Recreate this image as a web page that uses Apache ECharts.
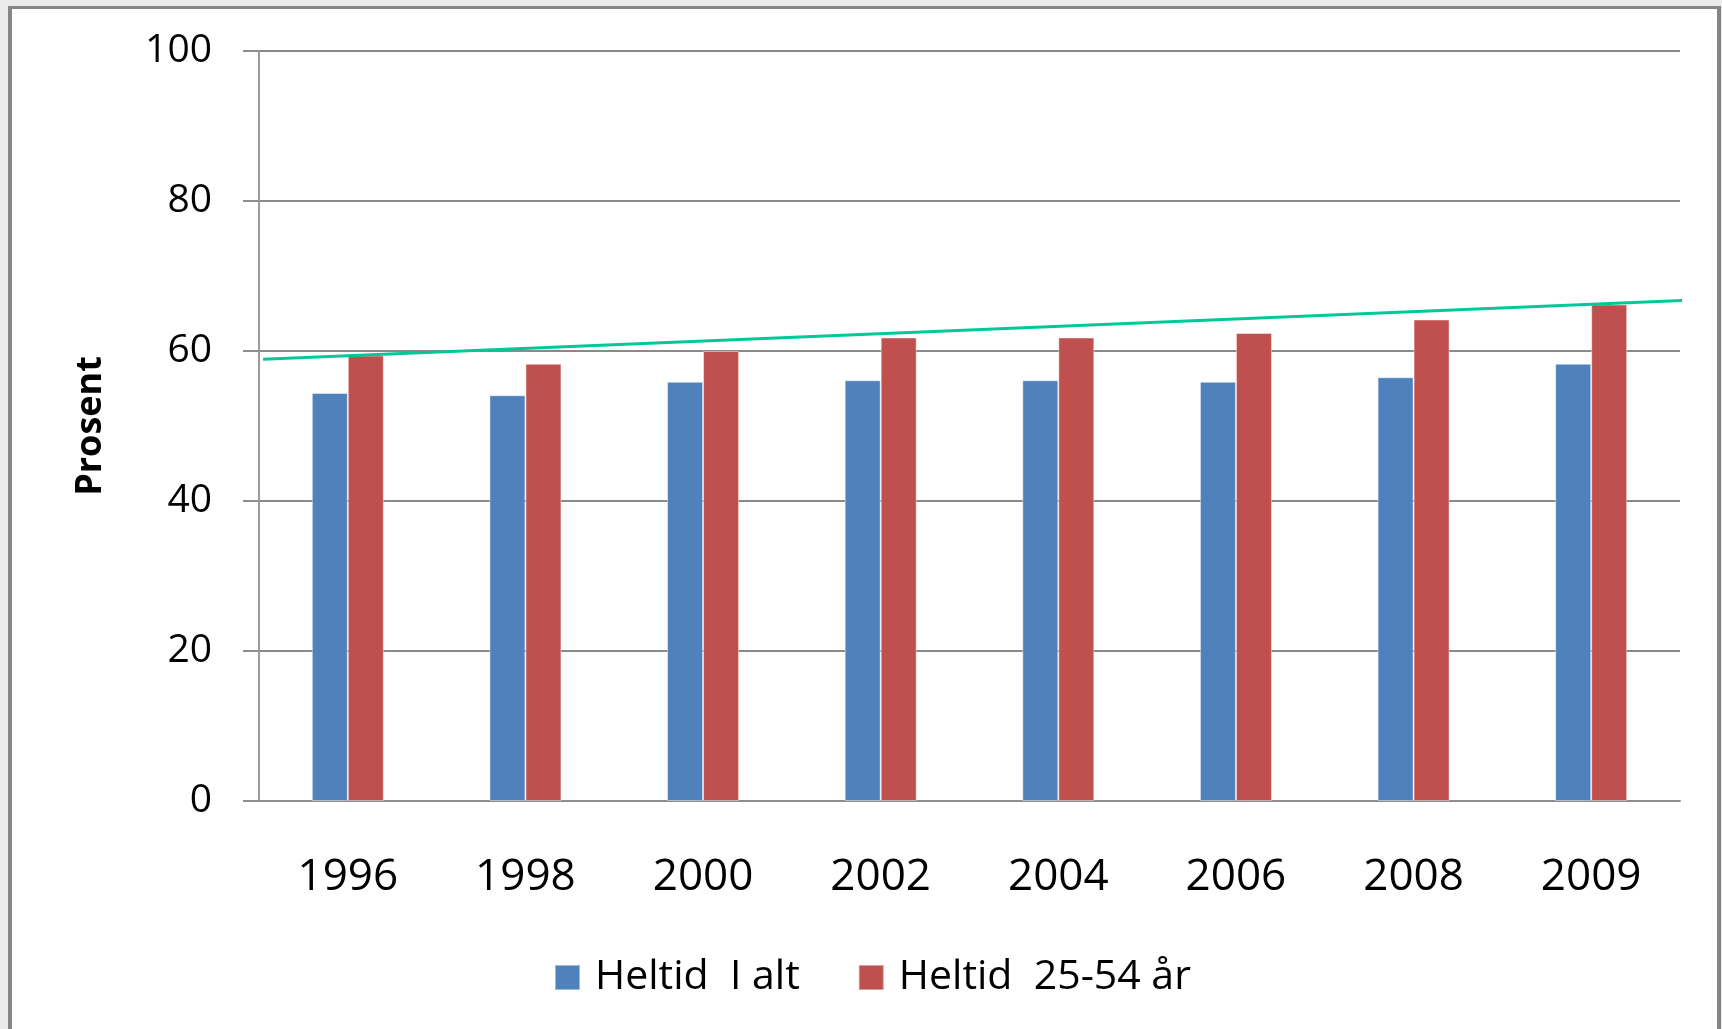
<!DOCTYPE html>
<html>
<head>
<meta charset="utf-8">
<script src="https://cdn.jsdelivr.net/npm/echarts@6/dist/echarts.min.js"></script>
<style>
  html, body { margin: 0; padding: 0; width: 1722px; height: 1029px; overflow: hidden; background: #eaeaea; }
  #frame { position: absolute; left: 8px; top: 6px; width: 1705px; height: 1100px; background: #ffffff;
           border-left: 4px solid #858585; border-top: 3px solid #858585; border-right: 4px solid #858585; }
  #chart { position: absolute; left: 0; top: 0; width: 1722px; height: 1029px; }
</style>
</head>
<body>
<div id="frame"></div>
<div id="chart"></div>
<script>
// Data
const categories = ['1996', '1998', '2000', '2002', '2004', '2006', '2008', '2009'];
const heltidIAlt = [54.4, 54.1, 55.9, 56.1, 56.1, 55.9, 56.5, 58.3];
const heltid2554 = [59.4, 58.3, 60.0, 61.8, 61.8, 62.4, 64.2, 66.2];
const seriesNames = ['Heltid  I alt', 'Heltid  25-54 år'];
const yTicks = [0, 20, 40, 60, 80, 100];
// Trend line end points: [category position, percent]
const trendLine = [[-0.477, 58.9], [7.715, 66.95]];

const font = '"Open Sans", "Noto Sans", sans-serif';
const chart = echarts.init(document.getElementById('chart'), null, { renderer: 'canvas' });
chart.setOption({
  backgroundColor: 'transparent',
  animation: false,
  grid: { left: 259, top: 51, right: 42, bottom: 228, containLabel: false },
  legend: {
    left: 549, top: 952,
    itemWidth: 25, itemHeight: 25, itemGap: 58,
    icon: 'rect',
    data: seriesNames,
    textStyle: { fontFamily: font, fontSize: 41, color: '#000', padding: [0, 0, 0, 10] }
  },
  xAxis: [{
    type: 'category',
    data: categories,
    axisLine: { show: true, onZero: false, lineStyle: { color: '#8e8e8e', width: 2 } },
    axisTick: { show: false },
    axisLabel: { fontFamily: font, fontSize: 44, color: '#000', margin: 54 },
    splitLine: { show: false }
  }, {
    type: 'value', min: -0.5, max: 7.5, show: false
  }],
  yAxis: {
    type: 'value', min: yTicks[0], max: yTicks[yTicks.length - 1], interval: 20,
    name: 'Prosent', nameLocation: 'middle', nameGap: 150,
    nameTextStyle: { fontFamily: font, fontSize: 36, fontWeight: 'bold', color: '#000' },
    axisLine: { show: true, onZero: false, lineStyle: { color: '#9a9a9a', width: 2 } },
    axisTick: { show: true, inside: false, length: 16, lineStyle: { color: '#8e8e8e', width: 2 } },
    axisLabel: { fontFamily: font, fontSize: 39, color: '#000', margin: 47 },
    splitLine: { show: true, lineStyle: { color: '#8a8a8a', width: 2 } }
  },
  series: [{
    name: seriesNames[0], type: 'bar', data: heltidIAlt,
    barWidth: 36, barGap: '0%',
    itemStyle: { color: '#4F81BD', borderColor: 'rgba(255,255,255,0.45)', borderWidth: 1 }
  }, {
    name: seriesNames[1], type: 'bar', data: heltid2554,
    barWidth: 36, barGap: '0%',
    itemStyle: { color: '#C0504D', borderColor: 'rgba(255,255,255,0.45)', borderWidth: 1 }
  }, {
    name: 'trend', type: 'line', xAxisIndex: 1, data: trendLine,
    clip: false, symbol: 'none', silent: true, z: 5,
    lineStyle: { color: '#00C896', width: 3 }
  }]
});
</script>
</body>
</html>
